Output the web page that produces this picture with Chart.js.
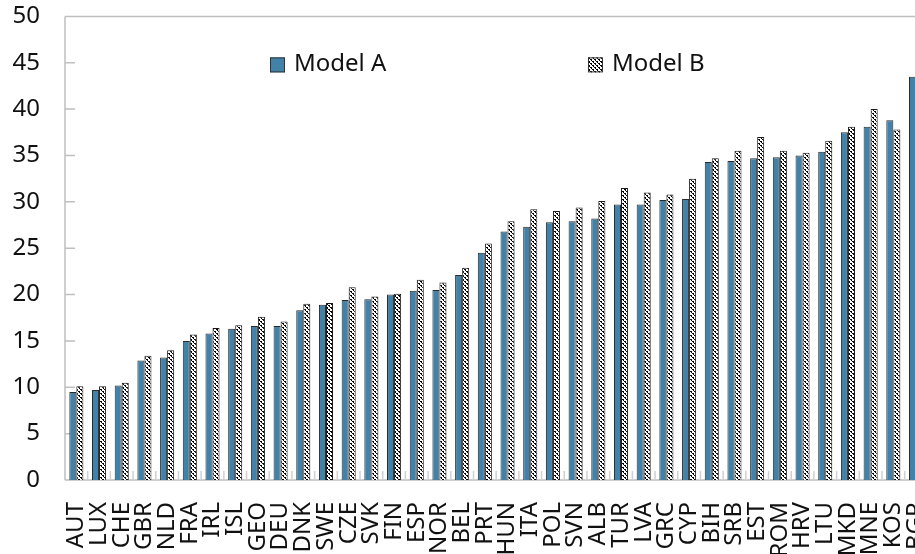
<!DOCTYPE html>
<html>
<head>
<meta charset="utf-8">
<script src="https://cdn.jsdelivr.net/npm/chart.js@4.4.1/dist/chart.umd.min.js"></script>
<style>
  html, body { margin: 0; padding: 0; background: #fff; overflow: hidden; }
  #wrap { width: 915px; height: 554px; overflow: hidden; position: relative; }
  #chart { position: absolute; left: 0; top: -23px; }
</style>
</head>
<body>
<div id="wrap"><canvas id="chart" width="959" height="578"></canvas></div>
<script>
const countries = ['AUT','LUX','CHE','GBR','NLD','FRA','IRL','ISL','GEO','DEU','DNK','SWE','CZE',
  'SVK','FIN','ESP','NOR','BEL','PRT','HUN','ITA','POL','SVN','ALB','TUR','LVA','GRC','CYP',
  'BIH','SRB','EST','ROM','HRV','LTU','MKD','MNE','KOS','BGR']
const modelA = [9.5, 9.7, 10.2, 12.9, 13.2, 15.0, 15.8, 16.3, 16.6, 16.6, 18.3, 18.9, 19.4,
  19.5, 20.0, 20.4, 20.5, 22.1, 24.5, 26.8, 27.3, 27.8, 27.9, 28.2, 29.7, 29.7, 30.2, 30.3,
  34.3, 34.4, 34.7, 34.8, 35.0, 35.4, 37.5, 38.1, 38.8, 43.5]
const modelB = [10.1, 10.1, 10.5, 13.4, 14.0, 15.7, 16.4, 16.7, 17.6, 17.1, 19.0, 19.1, 20.8,
  19.8, 20.1, 21.6, 21.3, 22.9, 25.5, 27.9, 29.2, 29.0, 29.4, 30.1, 31.5, 31.0, 30.8, 32.5,
  34.7, 35.5, 37.0, 35.5, 35.3, 36.6, 38.1, 40.0, 37.8, 45.6]
const yTicks = [0, 5, 10, 15, 20, 25, 30, 35, 40, 45, 50]

const FONT = '"Noto Sans", "Open Sans", sans-serif'
const AXIS_GREY = '#bfbfbf'

// hatch fill for Model B: black diagonal dashes on white
function makeHatch() {
  const c = document.createElement('canvas')
  c.width = 4; c.height = 4
  const g = c.getContext('2d')
  g.fillStyle = '#fff'
  g.fillRect(0, 0, 4, 4)
  g.fillStyle = '#000'
  for (let i = 0; i < 4; i++) {
    g.fillRect(i, i, 1, 1)
    if (i % 2 === 0) g.fillRect((i + 1) % 4, i, 1, 1)
  }
  return g.createPattern(c, 'repeat')
}

const frame = {
  id: 'frame',
  beforeDatasetsDraw(chart) {
    const { ctx, chartArea: a, scales } = chart
    ctx.save()
    ctx.strokeStyle = AXIS_GREY
    ctx.lineWidth = 1.5
    ctx.beginPath()
    // y axis, baseline, top line
    ctx.moveTo(a.left, a.top); ctx.lineTo(a.left, a.bottom)
    ctx.moveTo(a.left, a.bottom); ctx.lineTo(a.right, a.bottom)
    ctx.moveTo(a.left, a.top); ctx.lineTo(a.right, a.top)
    // inward y ticks
    yTicks.slice(1, -1).forEach(v => {
      const y = scales.y.getPixelForValue(v)
      ctx.moveTo(a.left, y); ctx.lineTo(a.left + 10, y)
    })
    ctx.stroke()
    // inward x ticks at category boundaries
    ctx.strokeStyle = '#d0d0d0'
    ctx.beginPath()
    const step = (a.right - a.left) / countries.length
    for (let i = 1; i < countries.length; i++) {
      const x = a.left + i * step
      ctx.moveTo(x, a.bottom); ctx.lineTo(x, a.bottom - 9)
    }
    ctx.stroke()
    ctx.restore()
  },
  afterDraw(chart) {
    const { ctx, chartArea: a } = chart
    const items = [
      { x: 270, label: chart.data.datasets[0].label, fill: chart.data.datasets[0].backgroundColor },
      { x: 588, label: chart.data.datasets[1].label, fill: chart.data.datasets[1].backgroundColor },
    ]
    const y = a.top + 41
    ctx.save()
    ctx.font = '24px ' + FONT
    ctx.textBaseline = 'middle'
    items.forEach(it => {
      ctx.fillStyle = it.fill
      ctx.fillRect(it.x, y, 15, 15)
      ctx.strokeStyle = '#333'
      ctx.lineWidth = 1
      ctx.strokeRect(it.x + 0.5, y + 0.5, 14, 14)
      ctx.fillStyle = '#111'
      ctx.fillText(it.label, it.x + 24, y + 7)
    })
    ctx.restore()
  }
}

new Chart(document.getElementById('chart'), {
  type: 'bar',
  plugins: [frame],
  data: {
    labels: countries,
    datasets: [
      {
        label: 'Model A',
        data: modelA,
        backgroundColor: '#4282a8',
        borderColor: '#2a2a2a',
        borderWidth: 1,
      },
      {
        label: 'Model B',
        data: modelB,
        backgroundColor: makeHatch(),
        borderColor: '#1a1a1a',
        borderWidth: 1,
      }
    ]
  },
  options: {
    responsive: false,
    animation: false,
    layout: { padding: { top: 17, right: 13, left: 0, bottom: 0 } },
    datasets: { bar: { barPercentage: 1, categoryPercentage: 0.62 } },
    scales: {
      x: {
        grid: { display: false },
        border: { display: false },
        afterFit(s) { s.height = 75 },
        ticks: {
          color: '#111',
          font: { family: FONT, size: 24 },
          minRotation: 90,
          maxRotation: 90,
          autoSkip: false,
          padding: 14,
        }
      },
      y: {
        min: 0,
        max: 50,
        grid: { display: false, drawTicks: false },
        border: { display: false },
        afterFit(s) { s.width = 65 },
        afterBuildTicks(s) { s.ticks = yTicks.map(v => ({ value: v })) },
        ticks: {
          color: '#111',
          font: { family: FONT, size: 24 },
          padding: 25,
        }
      }
    },
    plugins: {
      legend: { display: false },
      tooltip: { enabled: false }
    }
  }
})
</script>
</body>
</html>
